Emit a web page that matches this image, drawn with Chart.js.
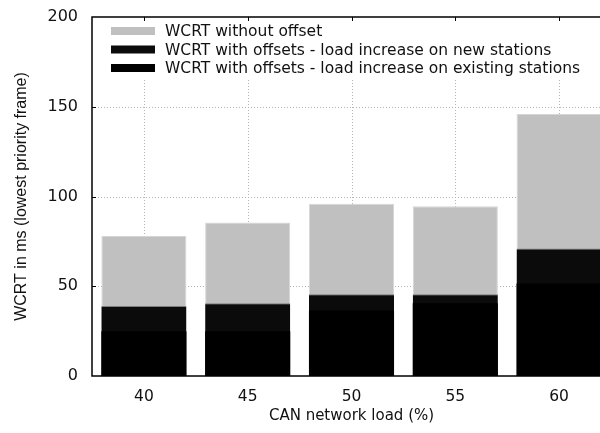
<!DOCTYPE html>
<html>
<head>
<meta charset="utf-8">
<script src="https://cdn.jsdelivr.net/npm/chart.js@4.4.0/dist/chart.umd.min.js"></script>
<style>
  html, body { margin: 0; padding: 0; background: #fff; }
  #wrap { width: 600px; height: 433px; overflow: hidden; position: relative; }
  #c { display: block; }
</style>
</head>
<body>
<div id="wrap"><canvas id="c" width="620" height="433"></canvas></div>
<script>
// CAN network load categories (%)
const loads = ['40', '45', '50', '55', '60'];
// Worst-case response time of the lowest priority frame, in ms
const wcrtNoOffset = [78, 85.5, 96, 94.5, 146];
const wcrtOffsetNewStations = [39, 40.5, 45.5, 45.5, 71];
const wcrtOffsetExistingStations = [25, 25, 36.5, 40.5, 51.5];
const yTicks = [0, 50, 100, 150, 200];

const WIDE = '"DejaVu Sans", Verdana, sans-serif';
const NARROW = '"Liberation Sans", Arial, sans-serif';

// Dotted grid, plot frame, inward tick marks and the in-plot legend
const framePlugin = {
  id: 'frame',
  beforeDatasetsDraw(chart) {
    const { ctx, chartArea: a, scales } = chart;
    ctx.save();
    ctx.strokeStyle = '#b4b4b4';
    ctx.lineWidth = 1;
    ctx.setLineDash([1, 2]);
    loads.forEach((_, i) => {
      const x = Math.round(scales.x.getPixelForValue(i)) + 0.5;
      ctx.beginPath(); ctx.moveTo(x, a.top); ctx.lineTo(x, a.bottom); ctx.stroke();
    });
    yTicks.slice(1, -1).forEach(v => {
      const y = Math.round(scales.y.getPixelForValue(v)) + 0.5;
      ctx.beginPath(); ctx.moveTo(a.left, y); ctx.lineTo(a.right, y); ctx.stroke();
    });
    ctx.restore();
  },
  afterDatasetsDraw(chart) {
    const { ctx, chartArea: a, scales } = chart;
    ctx.save();
    ctx.fillStyle = '#fff';
    ctx.fillRect(a.left + 1, a.top + 1, 505, 60);
    const items = chart.data.datasets.map(d => ({ label: d.label, color: d.backgroundColor }));
    ctx.font = '15.5px ' + WIDE;
    ctx.textBaseline = 'middle';
    items.forEach((it, i) => {
      const cy = a.top + 14 + i * 18.5;
      ctx.fillStyle = it.color;
      ctx.fillRect(a.left + 19, cy - 4, 44, 8);
      ctx.fillStyle = '#111';
      ctx.fillText(it.label, a.left + 73, cy + 1);
    });
    ctx.strokeStyle = '#000';
    ctx.lineWidth = 1.5;
    ctx.strokeRect(a.left, a.top, a.right - a.left, a.bottom - a.top);
    ctx.lineWidth = 1;
    yTicks.slice(1, -1).forEach(v => {
      const y = Math.round(scales.y.getPixelForValue(v)) + 0.5;
      ctx.beginPath(); ctx.moveTo(a.left, y); ctx.lineTo(a.left + 4, y); ctx.stroke();
    });
    loads.forEach((_, i) => {
      const x = Math.round(scales.x.getPixelForValue(i)) + 0.5;
      ctx.beginPath(); ctx.moveTo(x, a.top); ctx.lineTo(x, a.top + 4); ctx.stroke();
    });
    ctx.restore();
  }
};

new Chart(document.getElementById('c'), {
  type: 'bar',
  data: {
    labels: loads,
    datasets: [
      { label: 'WCRT without offset', data: wcrtNoOffset, backgroundColor: '#c0c0c0',
        borderColor: '#d6d6d6', borderWidth: 1, order: 3 },
      { label: 'WCRT with offsets - load increase on new stations', data: wcrtOffsetNewStations,
        backgroundColor: '#0b0b0b', borderColor: '#7c7c7c', borderWidth: { top: 1, left: 0, right: 0, bottom: 0 }, order: 2 },
      { label: 'WCRT with offsets - load increase on existing stations', data: wcrtOffsetExistingStations,
        backgroundColor: '#000000', borderWidth: 0, order: 1 }
    ]
  },
  options: {
    responsive: false,
    animation: false,
    layout: { padding: { top: 17, right: 9, left: 0, bottom: 0 } },
    datasets: { bar: { grouped: false, categoryPercentage: 1, barPercentage: 0.82 } },
    plugins: { legend: { display: false }, tooltip: { enabled: false } },
    scales: {
      x: {
        grid: { display: false, drawTicks: false },
        border: { display: false },
        ticks: { color: '#111', font: { family: WIDE, size: 15.5 }, padding: 12 },
        title: { display: true, text: 'CAN network load (%)', color: '#111',
                 font: { family: WIDE, size: 15 }, padding: { top: 0, bottom: 8 } },
        afterFit(s) { s.height = 57; s.paddingLeft = 0; s.paddingRight = 0; }
      },
      y: {
        min: 0, max: 200,
        grid: { display: false, drawTicks: false },
        border: { display: false },
        ticks: { stepSize: 50, color: '#111', font: { family: WIDE, size: 16 }, padding: 14 },
        title: { display: true, text: 'WCRT in ms (lowest priority frame)', color: '#111',
                 font: { family: NARROW, size: 16 }, padding: { top: 12, bottom: 0 } },
        afterFit(s) { s.width = 92; s.paddingTop = 0; s.paddingBottom = 0; }
      }
    }
  },
  plugins: [framePlugin]
});
</script>
</body>
</html>
